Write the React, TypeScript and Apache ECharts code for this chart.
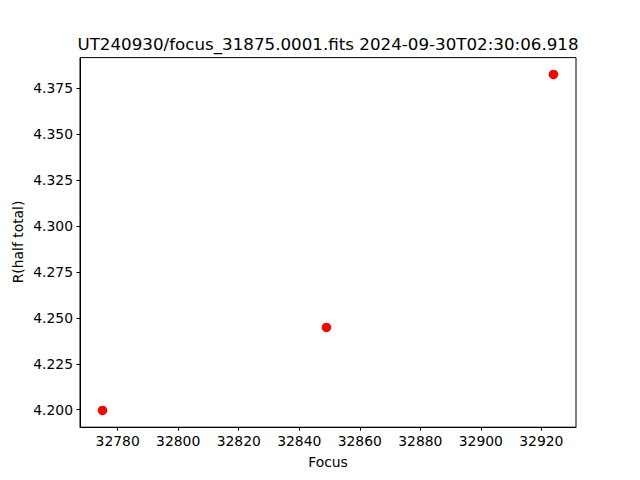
import React, { useEffect, useRef } from "react";
import * as echarts from "echarts";

const focusValues = [32775, 32849, 32924];
const radiusValues = [4.1996, 4.2448, 4.3826];
const xTicks = [32780, 32800, 32820, 32840, 32860, 32880, 32900, 32920];
const yTicks = [4.2, 4.225, 4.25, 4.275, 4.3, 4.325, 4.35, 4.375];
const titleText = "UT240930/focus_31875.0001.fits 2024-09-30T02:30:06.918";
const xName = "Focus";
const yName = "R(half total)";

const FONT = "DejaVu Sans";

export default function App() {
  const ref = useRef<HTMLDivElement>(null);
  useEffect(() => {
    if (!ref.current) return;
    const chart = echarts.init(ref.current, undefined, { renderer: "svg" });
    const xr = focusValues[2] - focusValues[0];
    const yr = radiusValues[2] - radiusValues[0];
    const gl = 80, gr = 64, gt = 57.6, gb = 52.8;
    chart.setOption({
      animation: false,
      backgroundColor: "#ffffff",
      grid: {
        left: gl, right: gr, top: gt, bottom: gb,
        show: true, borderColor: "#000", borderWidth: 1, backgroundColor: "transparent",
      },
      xAxis: {
        type: "value",
        min: focusValues[0] - 0.05 * xr,
        max: focusValues[2] + 0.05 * xr,
        splitLine: { show: false },
        axisLine: { show: true, lineStyle: { color: "#000", width: 1 } },
        axisTick: { show: true, inside: false, length: 3.5, lineStyle: { color: "#000" }, customValues: xTicks },
        axisLabel: { color: "#000", fontFamily: FONT, fontSize: 13.9, margin: 7, customValues: xTicks, formatter: (v: number) => String(v) },
      },
      yAxis: {
        type: "value",
        min: radiusValues[0] - 0.05 * yr,
        max: radiusValues[2] + 0.05 * yr,
        splitLine: { show: false },
        axisLine: { show: true, lineStyle: { color: "#000", width: 1 } },
        axisTick: { show: true, inside: false, length: 3.5, lineStyle: { color: "#000" }, customValues: yTicks },
        axisLabel: { color: "#000", fontFamily: FONT, fontSize: 13.9, margin: 7, customValues: yTicks, formatter: (v: number) => v.toFixed(3) },
      },
      graphic: [
        { type: "text", x: 328, y: 44, style: { text: titleText, fontFamily: FONT, fontSize: 16.7, fill: "#000", textAlign: "center", textVerticalAlign: "middle" } },
        { type: "text", x: 328, y: 462, style: { text: xName, fontFamily: FONT, fontSize: 13.9, fill: "#000", textAlign: "center", textVerticalAlign: "middle" } },
        { type: "text", x: 18, y: 242, rotation: Math.PI / 2, style: { text: yName, fontFamily: FONT, fontSize: 13.9, fill: "#000", textAlign: "center", textVerticalAlign: "middle" } },
      ],
      series: [
        {
          type: "scatter",
          data: focusValues.map((f, i) => [f, radiusValues[i]]),
          symbol: "circle",
          symbolSize: 9.5,
          itemStyle: { color: "#ff0000", opacity: 1 },
        },
      ],
    });
    return () => chart.dispose();
  }, []);
  return <div ref={ref} style={{ width: 640, height: 480, position: "absolute", left: 0, top: 0 }} />;
}
